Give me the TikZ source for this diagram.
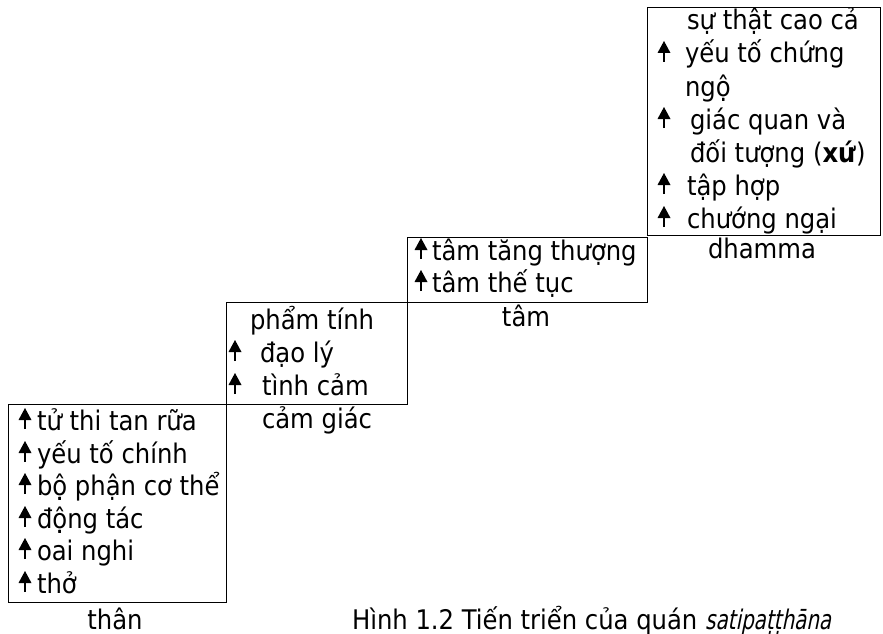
\documentclass[tikz,border=0pt]{standalone}
\usepackage{fontspec}
\setmainfont{DejaVu Sans Condensed}
\newfontfamily\capit{DejaVu Sans Condensed}[FakeStretch=0.82,FakeSlant=0.2]
\begin{document}
\begin{tikzpicture}[x=1pt,y=-1pt,
  every node/.style={inner sep=0pt,outer sep=0pt,font=\fontsize{27}{33}\selectfont},
  box/.style={draw,line width=1pt,anchor=north west,rectangle},
  txt/.style={anchor=base west},
  lbl/.style={anchor=base},
  uparr/.pic={\draw[line width=1.8pt] (0,-1) -- (0,-12);
              \fill (0,-22) -- (-6.5,-10) -- (6.5,-10) -- cycle;}]
\useasboundingbox (0,0) rectangle (883,634);
% boxes
\node[box,minimum width=218pt,minimum height=198pt] (b1) at (8,404) {};
\node[box,minimum width=181pt,minimum height=102pt] (b2) at (226,302) {};
\node[box,minimum width=240pt,minimum height=65pt] (b3) at (407,237) {};
\node[box,minimum width=233pt,minimum height=227pt] (b4) at (647,8) {};
% box 1
\node[txt] (a1) at (37,430) {tử thi tan rữa};
\node[txt] (a2) at (37,463) {yếu tố chính};
\node[txt] (a3) at (37,495) {bộ phận cơ thể};
\node[txt] (a4) at (37,528) {động tác};
\node[txt] (a5) at (37,560) {oai nghi};
\node[txt] (a6) at (37,593) {thở};
\foreach \n in {a1,a2,a3,a4,a5,a6}
  \pic at ([xshift=-12pt]\n.base west) {uparr};
\node[lbl] (l1) at (115,629) {thân};
% box 2
\node[txt] (c1) at (250,329) {phẩm tính};
\node[txt] (c2) at (260,362) {đạo lý};
\node[txt] (c3) at (262,395) {tình cảm};
\pic at ([xshift=-25pt]c2.base west) {uparr};
\pic at ([xshift=-27pt]c3.base west) {uparr};
\node[txt] (l2) at (262,428) {cảm giác};
% box 3
\node[txt] (m1) at (432,260) {tâm tăng thượng};
\node[txt] (m2) at (432,292) {tâm thế tục};
\foreach \n in {m1,m2}
  \pic at ([xshift=-11pt]\n.base west) {uparr};
\node[lbl] (l3) at (526,326) {tâm};
% box 4
\node[txt] (d1) at (687,30) {sự thật cao cả};
\node[txt] (d2) at (685,63) {yếu tố chứng};
\node[txt] (d3) at (685,96) {ngộ};
\node[txt] (d4) at (690,129) {giác quan và};
\node[txt] (d5) at (690,162) {đối tượng (\textbf{xứ})};
\node[txt] (d6) at (687,195) {tập hợp};
\node[txt] (d7) at (687,228) {chướng ngại};
\pic at ([xshift=-21pt]d2.base west) {uparr};
\pic at ([xshift=-26pt]d4.base west) {uparr};
\pic at ([xshift=-23pt]d6.base west) {uparr};
\pic at ([xshift=-23pt]d7.base west) {uparr};
\node[lbl] (l4) at (762,258) {dhamma};
% caption
\node[txt] (cap) at (352,629) {Hình 1.2 Tiến triển của quán {\capit satipaṭṭhāna}};
\end{tikzpicture}
\end{document}
